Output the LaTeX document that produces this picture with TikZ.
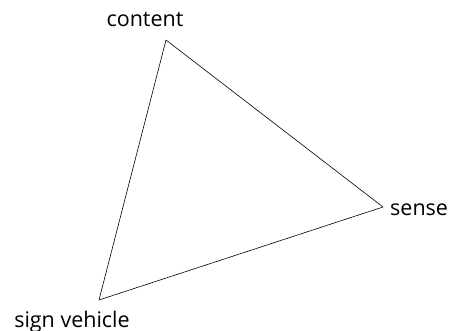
\documentclass[tikz,border=0pt]{standalone}
\usepackage{fontspec}
\setmainfont{Open Sans}
\usepackage{tikz}
\usetikzlibrary{positioning}

\begin{document}
\begin{tikzpicture}[
    x=1pt, y=-1pt,
    term/.style={font=\fontsize{21.5}{24}\selectfont, inner sep=0pt},
    edge/.style={line width=0.6pt}
]
    \useasboundingbox (0,0) rectangle (449,331);
    \coordinate (cont) at (166,40);
    \coordinate (sens) at (383,207);
    \coordinate (sign) at (99,300);
    \node [term, anchor=base] (contlabel) at (145,27) {content};
    \node [term, anchor=base west] (senslabel) at (390,215) {sense};
    \node [term, anchor=base] (signlabel) at (72,327) {sign vehicle};
    \draw [edge] (cont) -- (sens);
    \draw [edge] (sens) -- (sign);
    \draw [edge] (sign) -- (cont);
\end{tikzpicture}
\end{document}
